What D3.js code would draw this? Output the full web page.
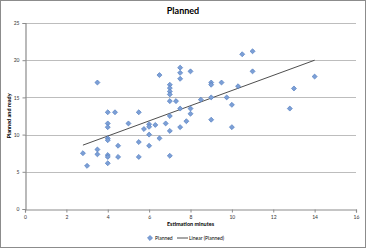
<!DOCTYPE html>
<html>
<head>
<meta charset="utf-8">
<script src="https://cdn.jsdelivr.net/npm/d3@7"></script>
<style>
  body { margin: 0; background: #fff; }
  svg { display: block; font-family: Lato, "Open Sans", sans-serif; }
</style>
</head>
<body>
<div id="chart"></div>
<script>
const estimationMinutes = [2.8, 3.0, 3.5, 3.5, 3.5, 4.0, 4.35, 4.0, 4.0, 4.0, 4.0, 4.0, 4.0, 4.0, 4.5, 4.5,
  5.0, 5.5, 5.5, 5.5, 5.75, 6.0, 6.0, 6.0, 6.0, 6.3, 6.5, 6.5, 6.8,
  7.0, 7.0, 7.0, 7.0, 7.0, 7.0, 7.0, 7.0, 7.3, 7.5, 7.5, 7.5, 7.5, 7.5, 7.8,
  8.0, 8.0, 8.0, 8.5, 9.0, 9.0, 9.0, 9.0, 9.5, 9.75, 10.0, 10.0, 10.3, 10.5,
  11.0, 11.0, 12.8, 13.0, 14.0];
const plannedReady = [7.5, 5.8, 17.0, 8.0, 7.35, 13.0, 13.0, 11.5, 11.0, 9.5, 9.25, 7.25, 7.0, 6.15, 8.5, 7.0,
  11.5, 13.0, 9.0, 7.0, 10.75, 11.4, 11.05, 10.0, 8.5, 11.3, 18.0, 9.5, 11.5,
  16.7, 16.25, 15.8, 15.4, 14.5, 12.5, 10.5, 7.15, 14.5, 19.0, 18.3, 17.5, 13.5, 11.0, 11.8,
  18.5, 13.5, 12.8, 14.7, 17.0, 16.7, 15.0, 12.0, 17.0, 15.0, 14.0, 11.0, 16.5, 20.8,
  21.2, 18.5, 13.5, 16.2, 17.8];
const xTicks = [0, 2, 4, 6, 8, 10, 12, 14, 16];
const yTicks = [0, 5, 10, 15, 20, 25];

const width = 366, height = 248;
const points = estimationMinutes.map((x, i) => ({ x, y: plannedReady[i] }));

const svg = d3.select("#chart").append("svg")
  .attr("width", width)
  .attr("height", height);

// chart area border
svg.append("rect")
  .attr("x", 0.5).attr("y", 0.5)
  .attr("width", width - 1).attr("height", height - 1)
  .attr("fill", "#fff")
  .attr("stroke", "#8c8c8c");

const x = d3.scaleLinear().domain([0, 16]).range([25, 356]);
const y = d3.scaleLinear().domain([0, 25]).range([209, 23]);

// gridlines
svg.append("g").selectAll("line")
  .data(yTicks.filter(d => d > 0))
  .join("line")
  .attr("x1", x(0)).attr("x2", x(16))
  .attr("y1", d => Math.round(y(d)) + 0.5)
  .attr("y2", d => Math.round(y(d)) + 0.5)
  .attr("stroke", "#bdbdbd")
  .attr("stroke-width", 1.2);

// axes
const xAxis = svg.append("g")
  .attr("transform", `translate(0,${Math.round(y(0)) + 0.5})`)
  .call(d3.axisBottom(x).tickValues(xTicks).tickSize(3).tickPadding(3));
const yAxis = svg.append("g")
  .attr("transform", `translate(${Math.round(x(0)) + 0.5},0)`)
  .call(d3.axisLeft(y).tickValues(yTicks).tickSize(3).tickPadding(3));

[xAxis, yAxis].forEach(a => {
  a.select(".domain").attr("stroke", "#8c8c8c").attr("stroke-width", 1.2);
  a.selectAll(".tick line").attr("stroke", "#8c8c8c");
  a.selectAll(".tick text")
    .attr("fill", "#333")
    .style("font-size", "5px")
    .style("font-family", "Lato, sans-serif");
});

// trendline (least squares)
const mx = d3.mean(points, d => d.x), my = d3.mean(points, d => d.y);
const slope = d3.sum(points, d => (d.x - mx) * (d.y - my)) / d3.sum(points, d => (d.x - mx) ** 2);
const icpt = my - slope * mx;
const xExt = d3.extent(points, d => d.x);
svg.append("line")
  .attr("x1", x(xExt[0])).attr("y1", y(icpt + slope * xExt[0]))
  .attr("x2", x(xExt[1])).attr("y2", y(icpt + slope * xExt[1]))
  .attr("stroke", "#3a3a3a")
  .attr("stroke-width", 0.9);

// markers
const diamond = d3.symbol().type(d3.symbolDiamond2).size(16);
svg.append("g").selectAll("path")
  .data(points)
  .join("path")
  .attr("d", diamond)
  .attr("transform", d => `translate(${x(d.x)},${y(d.y)})`)
  .attr("fill", "#7c9fd6")
  .attr("stroke", "#5580c2")
  .attr("stroke-width", 0.7);

// titles
svg.append("text")
  .attr("x", 183).attr("y", 14)
  .attr("text-anchor", "middle")
  .style("font-size", "9px").style("font-weight", "bold")
  .text("Planned");

svg.append("text")
  .attr("x", x(8)).attr("y", 226)
  .attr("text-anchor", "middle")
  .style("font-size", "5.5px").style("font-weight", "bold")
  .text("Estimation minutes");

svg.append("text")
  .attr("transform", `translate(11,${y(12.5)}) rotate(-90)`)
  .attr("text-anchor", "middle")
  .style("font-size", "5.5px").style("font-weight", "bold")
  .text("Planned and ready");

// legend
const lg = svg.append("g").attr("transform", "translate(150,238)");
lg.append("path")
  .attr("d", diamond)
  .attr("fill", "#7c9fd6")
  .attr("stroke", "#5580c2")
  .attr("stroke-width", 0.7);
lg.append("text")
  .attr("x", 5).attr("y", 2)
  .style("font-size", "5px")
  .text("Planned");
lg.append("line")
  .attr("x1", 27).attr("x2", 38)
  .attr("y1", 0).attr("y2", 0)
  .attr("stroke", "#3a3a3a").attr("stroke-width", 0.9);
lg.append("text")
  .attr("x", 39).attr("y", 2)
  .style("font-size", "5px")
  .text("Linear (Planned)");
</script>
</body>
</html>
